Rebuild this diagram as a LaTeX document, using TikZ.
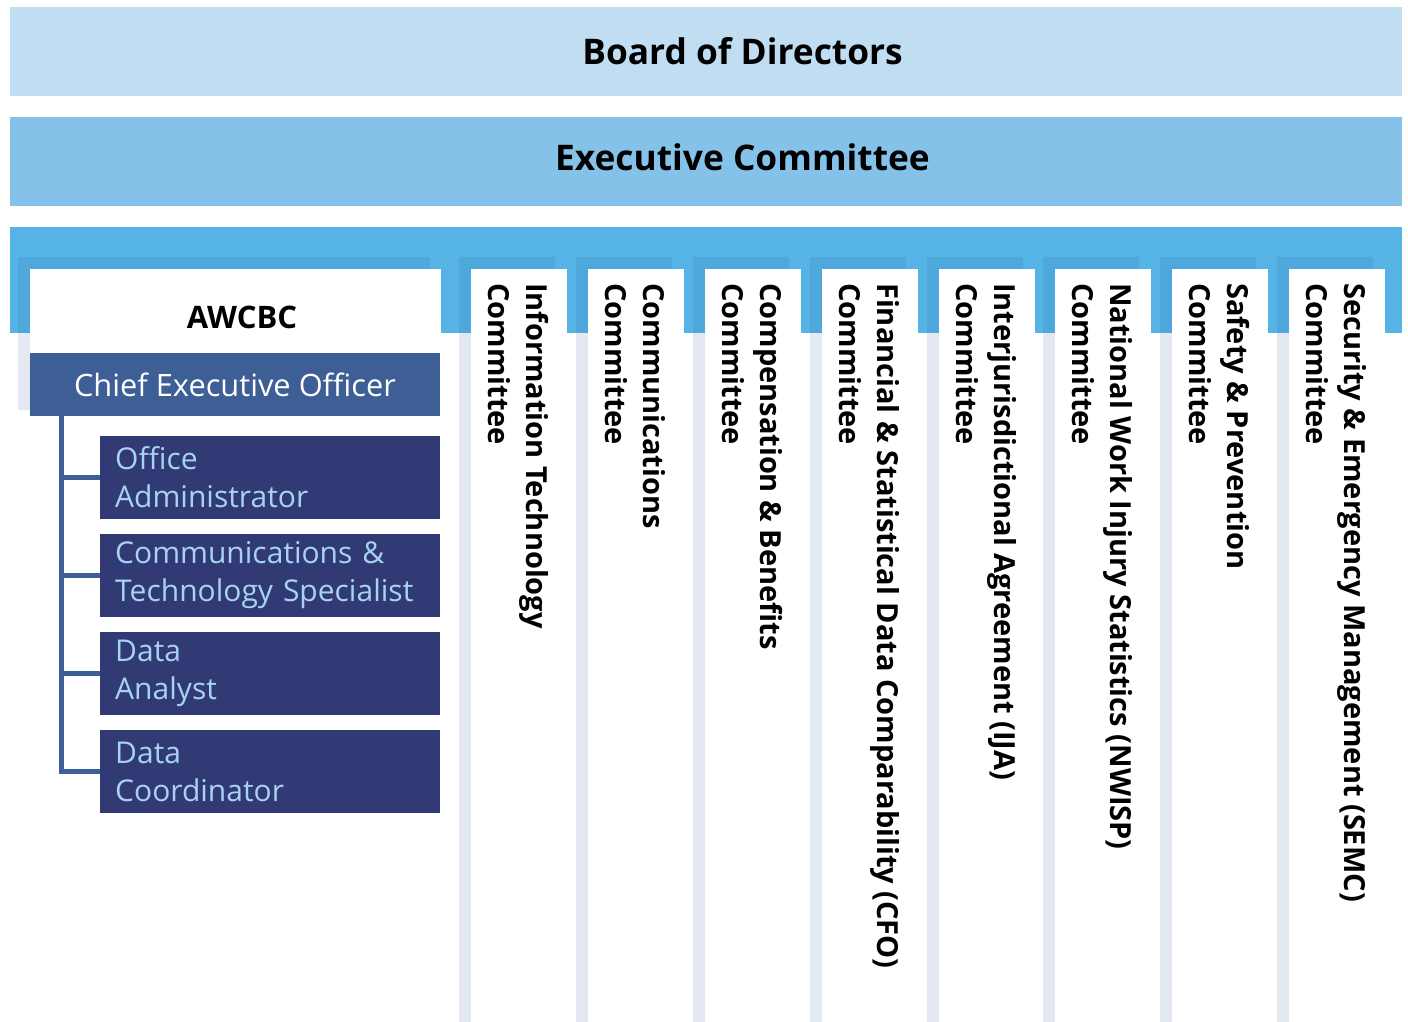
\documentclass[tikz,border=0pt]{standalone}
\usepackage{fontspec}
\setmainfont{Open Sans}
\definecolor{boardc}{HTML}{C0DDF2}
\definecolor{execc}{HTML}{85C2E9}
\definecolor{barc}{HTML}{55B3E5}
\definecolor{shblue}{HTML}{4FA8DB}
\definecolor{shgrey}{HTML}{E4E8F0}
\definecolor{ceoc}{HTML}{3E5F96}
\definecolor{staffc}{HTML}{323A75}
\definecolor{stafftext}{HTML}{A6D3F1}
\begin{document}
\begin{tikzpicture}[x=1pt,y=-1pt,
  band/.style={inner sep=0pt, minimum width=1392pt, minimum height=89pt},
  bandtext/.style={inner sep=0pt, font=\bfseries\fontsize{35.3}{42}\selectfont, text=black},
  ceobox/.style={fill=ceoc, inner sep=0pt, minimum width=410pt, minimum height=63pt, text=white, font=\fontsize{30.8}{36}\selectfont},
  staffbox/.style={fill=staffc, anchor=west, inner xsep=15pt, inner ysep=0pt, text width=310pt, minimum height=83pt, align=left, text=stafftext, font=\fontsize{30}{38}\selectfont},
  coltext/.style={rotate=-90, anchor=north west, inner sep=0pt, align=left, font=\bfseries\fontsize{29}{38}\selectfont},
  conn/.style={draw=ceoc, line width=5pt}
]
\useasboundingbox (0,0) rectangle (1408,1022);
\node[band, fill=boardc] (board) at (706,51.5) {};
\node[bandtext] (boardtxt) at (742.5,51) {Board of Directors};
\node[band, fill=execc] (exec) at (706,161.5) {};
\node[bandtext] (exectxt) at (742.5,157) {Executive Committee};
\fill[barc] (10,227) rectangle (1402,333);
% left panel
\fill[shblue] (18,257) rectangle (430,333);
\fill[shgrey] (18,333) rectangle (430,410);
\fill[white] (30,269) rectangle (441,1022);
% committee columns
\foreach \x in {471,588,705,822,939,1055,1172,1289}{
  \fill[shblue] (\x-12,257) rectangle (\x+84,333);
  \fill[shgrey] (\x-12,333) rectangle (\x+84,1022);
  \fill[white] (\x,269) rectangle (\x+96,1022);
}
\node[font=\bfseries\fontsize{31}{36}\selectfont, inner sep=0pt] (awcbc) at (242,317) {AWCBC};
\node[ceobox] (ceo) at (235,384.5) {Chief Executive Officer};
\node[staffbox] (s1) at (100,477.5) {Office\\Administrator};
\node[staffbox] (s2) at (100,575.5) {Communications \&\\Technology Specialist};
\node[staffbox] (s3) at (100,673.5) {Data\\Analyst};
\node[staffbox] (s4) at (100,771.5) {Data\\Coordinator};
\coordinate (trunk) at (61,416);
\foreach \s in {s1,s2,s3}{ \draw[conn] (trunk |- \s.west) -- (\s.west); }
\draw[conn] (trunk) |- (s4.west);
% committee texts
\node[coltext] (c1) at (471+78,283) {Information Technology\\Committee};
\node[coltext] (c2) at (588+78,283) {Communications\\Committee};
\node[coltext] (c3) at (705+78,283) {Compensation \& Benefits\\Committee};
\node[coltext] (c4) at (822+78,283) {Financial \& Statistical Data Comparability (CFO)\\Committee};
\node[coltext] (c5) at (939+78,283) {Interjurisdictional Agreement (IJA)\\Committee};
\node[coltext] (c6) at (1055+78,283) {National Work Injury Statistics (NWISP)\\Committee};
\node[coltext] (c7) at (1172+78,283) {Safety \& Prevention\\Committee};
\node[coltext] (c8) at (1289+78,283) {Security \& Emergency Management (SEMC)\\Committee};
\end{tikzpicture}
\end{document}
